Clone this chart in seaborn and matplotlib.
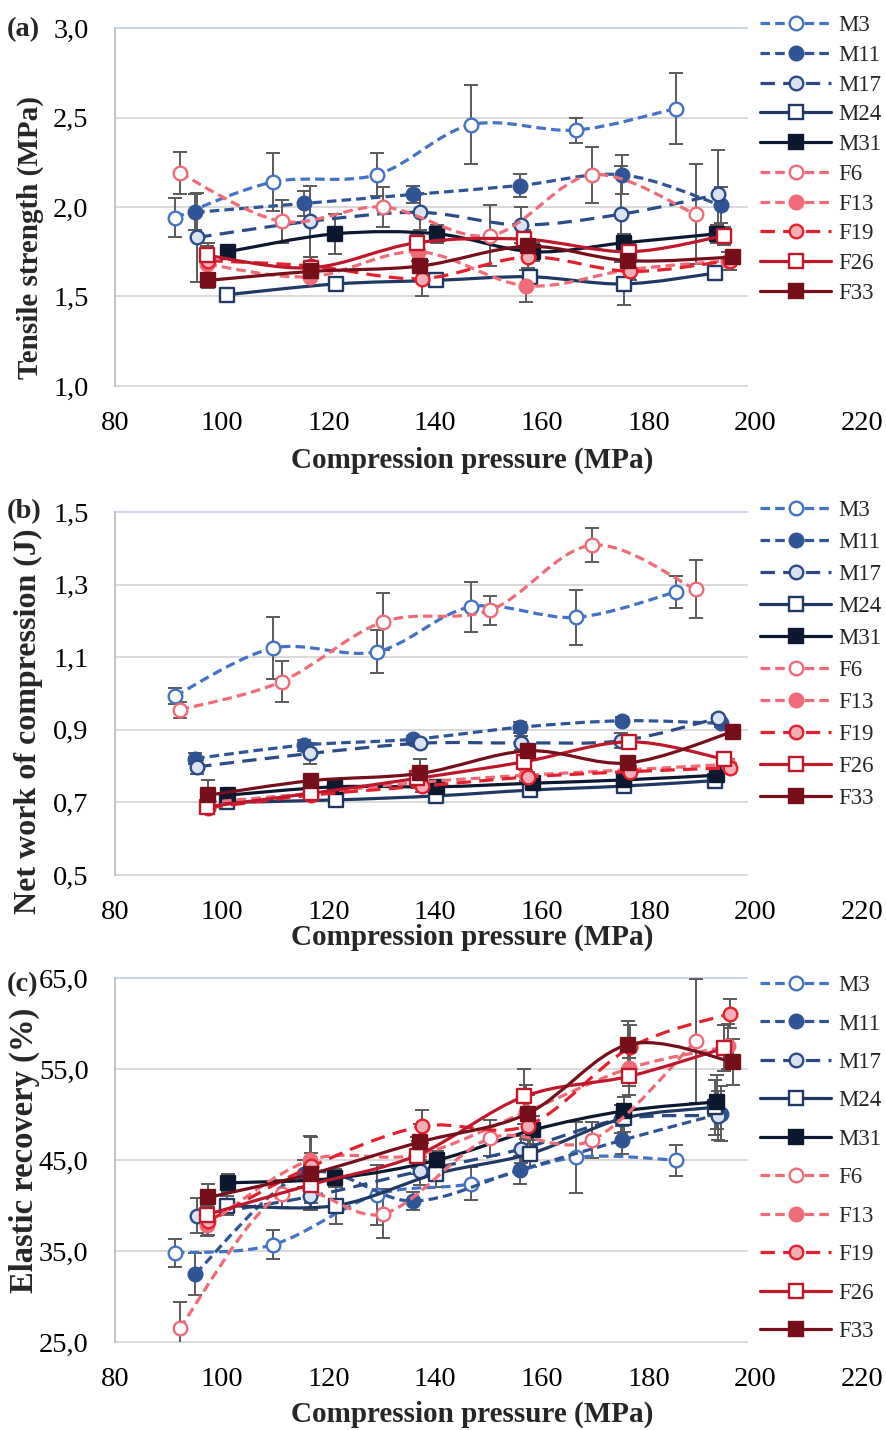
import numpy as np
import matplotlib
matplotlib.use("Agg")
import matplotlib.pyplot as plt
from matplotlib.path import Path
from matplotlib.patches import PathPatch
from matplotlib.lines import Line2D
from matplotlib.ticker import FuncFormatter
import seaborn as sns

# ---- data ----
series = ["M3", "M11", "M17", "M24", "M31", "F6", "F13", "F19", "F26", "F33"]

pressure = {
    "M3": [91.2, 109.6, 129.0, 146.8, 166.4, 185.1],
    "M11": [95.0, 115.5, 135.8, 155.8, 175.1, 193.5],
    "M17": [95.4, 116.6, 137.2, 156.0, 174.9, 193.0],
    "M24": [101.0, 121.4, 140.2, 157.8, 175.3, 192.4],
    "M31": [101.1, 121.2, 140.4, 158.3, 175.4, 192.8],
    "F6": [92.1, 111.2, 130.3, 150.3, 169.4, 188.8],
    "F13": [97.3, 116.6, 136.8, 157.0, 176.4, 194.9],
    "F19": [97.5, 116.8, 137.5, 157.3, 176.6, 195.2],
    "F26": [97.2, 116.7, 136.5, 156.7, 176.3, 194.2],
    "F33": [97.5, 116.8, 137.2, 157.3, 176.2, 195.8],
}

tensile = {
    "M3": [1.94, 2.14, 2.18, 2.46, 2.43, 2.55],
    "M11": [1.97, 2.02, 2.07, 2.12, 2.18, 2.01],
    "M17": [1.83, 1.92, 1.97, 1.90, 1.96, 2.07],
    "M24": [1.51, 1.57, 1.59, 1.61, 1.57, 1.63],
    "M31": [1.75, 1.85, 1.85, 1.75, 1.80, 1.85],
    "F6": [2.19, 1.92, 2.00, 1.84, 2.18, 1.96],
    "F13": [1.68, 1.61, 1.75, 1.56, 1.65, 1.70],
    "F19": [1.70, 1.67, 1.60, 1.72, 1.64, 1.70],
    "F26": [1.73, 1.66, 1.80, 1.82, 1.75, 1.84],
    "F33": [1.59, 1.64, 1.67, 1.78, 1.70, 1.72],
}
tensile_sd = {
    "M3": [0.11, 0.16, 0.12, 0.22, 0.07, 0.20],
    "M11": [0.10, 0.07, 0.05, 0.065, 0.11, 0.10],
    "M17": [0.25, 0.20, 0.10, 0.10, 0.27, 0.25],
    "M24": [0.03, 0.03, 0.03, 0.03, 0.12, 0.04],
    "M31": [0.03, 0.11, 0.05, 0.05, 0.05, 0.05],
    "F6": [0.12, 0.12, 0.11, 0.17, 0.155, 0.28],
    "F13": [0.10, 0.05, 0.05, 0.09, 0.05, 0.05],
    "F19": [0.10, 0.05, 0.10, 0.06, 0.05, 0.05],
    "F26": [0.05, 0.04, 0.05, 0.05, 0.05, 0.05],
    "F33": [0.04, 0.04, 0.04, 0.04, 0.04, 0.04],
}

work = {
    "M3": [0.993, 1.125, 1.115, 1.239, 1.210, 1.280],
    "M11": [0.821, 0.858, 0.874, 0.907, 0.925, 0.918],
    "M17": [0.798, 0.835, 0.863, 0.864, 0.870, 0.932],
    "M24": [0.700, 0.707, 0.718, 0.734, 0.745, 0.760],
    "M31": [0.720, 0.743, 0.743, 0.753, 0.762, 0.775],
    "F6": [0.955, 1.033, 1.198, 1.230, 1.409, 1.287],
    "F13": [0.700, 0.725, 0.755, 0.775, 0.790, 0.805],
    "F19": [0.685, 0.720, 0.745, 0.770, 0.785, 0.795],
    "F26": [0.688, 0.725, 0.766, 0.812, 0.867, 0.819],
    "F33": [0.720, 0.760, 0.780, 0.842, 0.809, 0.895],
}
work_sd = {
    "M3": [0.022, 0.085, 0.059, 0.069, 0.076, 0.044],
    "M11": [0.015, 0.015, 0.010, 0.015, 0.010, 0.010],
    "M17": [0.020, 0.030, 0.010, 0.020, 0.020, 0.010],
    "M24": [0.010, 0.010, 0.010, 0.010, 0.010, 0.010],
    "M31": [0.010, 0.010, 0.010, 0.010, 0.010, 0.010],
    "F6": [0.023, 0.056, 0.078, 0.040, 0.047, 0.080],
    "F13": [0.010, 0.015, 0.015, 0.015, 0.015, 0.015],
    "F19": [0.010, 0.015, 0.015, 0.015, 0.015, 0.015],
    "F26": [0.010, 0.015, 0.015, 0.015, 0.015, 0.015],
    "F33": [0.043, 0.015, 0.039, 0.015, 0.015, 0.015],
}

recovery = {
    "M3": [34.8, 35.7, 41.2, 42.4, 45.3, 45.0],
    "M11": [32.5, 43.5, 40.5, 43.9, 47.2, 50.1],
    "M17": [38.9, 41.0, 43.8, 46.2, 49.5, 49.9],
    "M24": [40.0, 40.0, 43.5, 45.7, 49.6, 50.8],
    "M31": [42.5, 43.0, 45.0, 48.3, 50.4, 51.4],
    "F6": [26.5, 41.3, 39.1, 47.4, 47.2, 58.1],
    "F13": [37.9, 45.0, 45.6, 50.3, 55.1, 57.5],
    "F19": [38.3, 44.3, 48.7, 48.8, 57.4, 61.1],
    "F26": [39.0, 42.3, 45.5, 52.0, 54.2, 57.3],
    "F33": [40.9, 43.5, 47.0, 50.1, 57.7, 55.8],
}
recovery_sd = {
    "M3": [1.5, 1.6, 3.3, 1.8, 3.9, 1.7],
    "M11": [2.3, 1.5, 1.0, 1.5, 1.5, 3.0],
    "M17": [1.9, 1.5, 1.5, 1.5, 1.5, 2.7],
    "M24": [1.0, 2.0, 1.5, 1.5, 1.5, 3.0],
    "M31": [1.0, 1.0, 1.0, 1.5, 1.5, 3.0],
    "F6": [2.9, 1.5, 2.7, 2.0, 2.0, 6.8],
    "F13": [1.2, 2.6, 1.5, 3.0, 2.0, 2.5],
    "F19": [1.5, 1.5, 1.8, 2.0, 2.5, 1.6],
    "F26": [1.0, 2.0, 2.0, 3.0, 2.0, 2.5],
    "F33": [1.5, 4.0, 2.0, 2.0, 2.6, 2.5],
}

x_ticks = [80, 100, 120, 140, 160, 180, 200, 220]
tensile_ticks = [1.0, 1.5, 2.0, 2.5, 3.0]
work_ticks = [0.5, 0.7, 0.9, 1.1, 1.3, 1.5]
recovery_ticks = [25, 35, 45, 55, 65]

# ---- styles ----
short_dash = (0, (3.0, 1.6))
long_dash = (0, (4.5, 2.6))
pink = "#EF6B78"
styles = {
    "M3": dict(color="#4472C4", ls=short_dash, marker="o", mfc="white", mec="#4472C4"),
    "M11": dict(color="#2F5597", ls=short_dash, marker="o", mfc="#2F5597", mec="#2F5597"),
    "M17": dict(color="#2A4B86", ls=long_dash, marker="o", mfc="#DAE3F3", mec="#2A4B86"),
    "M24": dict(color="#203864", ls="-", marker="s", mfc="white", mec="#203864"),
    "M31": dict(color="#0C1830", ls="-", marker="s", mfc="#0C1830", mec="#0C1830"),
    "F6": dict(color=pink, ls=short_dash, marker="o", mfc="white", mec=pink),
    "F13": dict(color=pink, ls=short_dash, marker="o", mfc=pink, mec=pink),
    "F19": dict(color="#E5202E", ls=long_dash, marker="o", mfc="#F4AEB6", mec="#E5202E"),
    "F26": dict(color="#C0182B", ls="-", marker="s", mfc="white", mec="#C0182B"),
    "F33": dict(color="#760F19", ls="-", marker="s", mfc="#760F19", mec="#760F19"),
}

sns.set_theme(style="white")
plt.rcParams["font.family"] = ["Liberation Serif", "DejaVu Serif"]

LW = 2.3
MS = 9.8
TICK_FS = 20.5
LABEL_FS = 21
LEG_FS = 16.5


def smooth_path(x, y):
    # Excel-like smoothed line (Catmull-Rom as cubic Bezier)
    pts = np.column_stack([x, y])
    n = len(pts)
    verts = [pts[0]]
    codes = [Path.MOVETO]
    for i in range(n - 1):
        p0 = pts[max(i - 1, 0)]
        p1 = pts[i]
        p2 = pts[i + 1]
        p3 = pts[min(i + 2, n - 1)]
        verts += [p1 + (p2 - p0) / 6.0, p2 - (p3 - p1) / 6.0, p2]
        codes += [Path.CURVE4] * 3
    return Path(verts, codes)


def comma(v, pos):
    return f"{v:.1f}".replace(".", ",")


def draw_panel(ax, values, errors, yticks, ylabel, ylab_fs, ylab_x, ylab_y, xlab_y,
               tag, tag_y, leg_top, leg_space):
    for i, name in enumerate(series):
        st = styles[name]
        x = np.array(pressure[name])
        y = np.array(values[name])
        e = np.array(errors[name])
        ax.errorbar(x, y, yerr=e, fmt="none", ecolor="#5A5A5A", elinewidth=1.4,
                    capsize=5, capthick=1.4, zorder=2)
        ax.add_patch(PathPatch(smooth_path(x, y), fill=False, edgecolor=st["color"],
                               lw=LW, linestyle=st["ls"], zorder=3 + i * 0.1))
        sns.scatterplot(x=x, y=y, ax=ax, marker=st["marker"], s=MS ** 2,
                        color=st["mfc"], edgecolor=st["mec"], linewidth=1.7,
                        zorder=3.05 + i * 0.1, legend=False)

    ax.set_xlim(x_ticks[0], x_ticks[-1])
    ax.set_xticks(x_ticks)
    ax.set_ylim(yticks[0], yticks[-1])
    ax.set_yticks(yticks)
    ax.yaxis.set_major_formatter(FuncFormatter(comma))
    ax.grid(False)
    for t in yticks:
        col = "#CDD5EA" if t == yticks[-1] else "#D9D9D9"
        ax.axhline(t, xmin=0, xmax=0.846, color=col, lw=1.4, zorder=0.5, clip_on=False)
    for s in ["top", "right", "bottom"]:
        ax.spines[s].set_visible(False)
    ax.spines["left"].set_color("#BFBFBF")
    ax.spines["left"].set_linewidth(1.3)
    ax.tick_params(axis="both", length=0, labelsize=TICK_FS, colors="black")
    ax.tick_params(axis="y", pad=19)
    ax.tick_params(axis="x", pad=18)

    ax.set_ylabel(ylabel, fontsize=ylab_fs, fontweight="bold")
    ax.yaxis.set_label_coords(ylab_x, ylab_y)
    ax.set_xlabel("Compression pressure (MPa)", fontsize=LABEL_FS, fontweight="bold")
    ax.xaxis.set_label_coords(0.478, xlab_y)

    fig.text(0.008, tag_y, tag, fontsize=TICK_FS, fontweight="bold", va="center", ha="left")

    handles = [Line2D([], [], color=styles[n]["color"], lw=LW, ls=styles[n]["ls"],
                      marker=styles[n]["marker"], ms=MS, mfc=styles[n]["mfc"],
                      mec=styles[n]["mec"], mew=1.7) for n in series]
    ax.legend(handles, series, loc="upper left", bbox_to_anchor=(0.8568, leg_top),
              bbox_transform=fig.transFigure, frameon=False, fontsize=LEG_FS,
              handlelength=3.1, handletextpad=0.3, labelspacing=leg_space,
              borderpad=0, borderaxespad=0, numpoints=1)


fig = plt.figure(figsize=(8.87, 14.30), dpi=100)
ax_a = fig.add_axes([0.1297, 0.7301, 0.8422, 0.2503])
ax_b = fig.add_axes([0.1297, 0.3881, 0.8422, 0.2538])
ax_c = fig.add_axes([0.1297, 0.0615, 0.8422, 0.2545])

draw_panel(ax_a, tensile, tensile_sd, tensile_ticks, "Tensile strength (MPa)", LABEL_FS,
           -0.095, 0.416, -0.170, "(a)", 1 - 30 / 1430, 1 - 15 / 1430, 0.38)
draw_panel(ax_b, work, work_sd, work_ticks, "Net work of compression (J)", 23,
           -0.097, 0.425, -0.135, "(b)", 1 - 512 / 1430, 1 - 500 / 1430, 0.48)
draw_panel(ax_c, recovery, recovery_sd, recovery_ticks, "Elastic recovery (%)", 23.5,
           -0.100, 0.527, -0.162, "(c)", 1 - 985 / 1430, 1 - 975 / 1430, 0.76)

fig.savefig("out.png", dpi=100)
